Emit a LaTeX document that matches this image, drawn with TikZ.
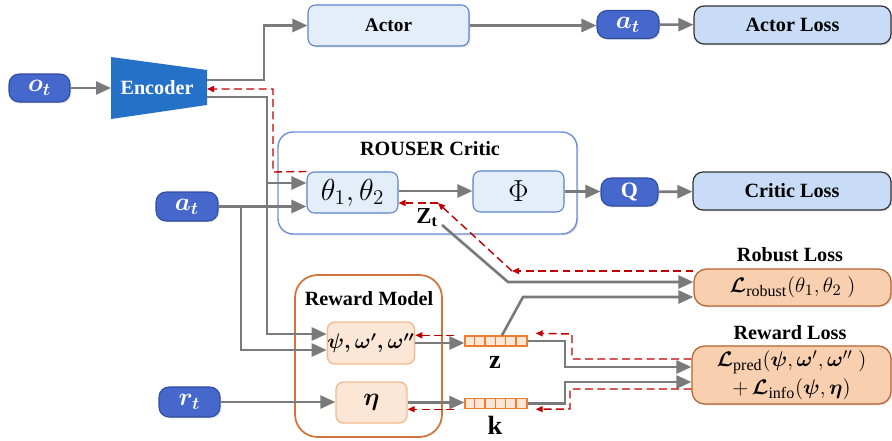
\documentclass[tikz,border=0pt]{standalone}
\usepackage{amsmath}
\usepackage{fontspec}
\setmainfont{Liberation Serif}
\usetikzlibrary{arrows.meta,shadows,calc}
\definecolor{pill}{HTML}{4668CC}
\definecolor{pillb}{HTML}{2F4C9E}
\definecolor{enc}{HTML}{2671C8}
\definecolor{lb}{HTML}{E4EEF9}
\definecolor{lbb}{HTML}{5C80C8}
\definecolor{lossb}{HTML}{C9DCF7}
\definecolor{peach}{HTML}{F8CFAF}
\definecolor{peachb}{HTML}{B5622D}
\definecolor{lpeach}{HTML}{FCE6D6}
\definecolor{lpeachb}{HTML}{F3BB90}
\definecolor{orng}{HTML}{ED7D31}
\definecolor{ln}{HTML}{7A7A7A}
\definecolor{rd}{HTML}{C00000}
\definecolor{critb}{HTML}{7090D8}
\definecolor{rmb}{HTML}{D2743A}
\tikzset{
  shd/.style={drop shadow={opacity=0.25,shadow xshift=0.8pt,shadow yshift=-0.8pt}},
  pillnode/.style={rounded corners=0.2cm, fill=pill, draw=pillb, line width=0.6pt, text=white, inner sep=0pt, font=\fontsize{14.5}{16}\selectfont, shd},
  bluebox/.style={rounded corners=0.15cm, fill=lb, draw=lbb, line width=0.6pt, inner sep=0pt, font=\bfseries\fontsize{11}{13}\selectfont},
  lossbox/.style={rounded corners=0.2cm, fill=lossb, draw=black!80, line width=0.7pt, inner sep=0pt, font=\bfseries\fontsize{11.5}{13}\selectfont, shd},
  peachbox/.style={rounded corners=0.25cm, fill=peach, draw=peachb, line width=0.7pt, inner sep=0pt, font=\fontsize{13}{15.5}\selectfont, shd},
  innerbox/.style={rounded corners=0.15cm, fill=lpeach, draw=lpeachb, line width=0.8pt, inner sep=0pt, font=\fontsize{12}{15}\selectfont},
  vecbox/.style={fill=lpeach, draw=orng, line width=0.8pt, inner sep=0pt, minimum width=1.24cm, minimum height=0.2cm},
  lbl/.style={font=\bfseries\fontsize{11.5}{13}\selectfont},
  garr/.style={draw=ln, line width=1.5pt, -{Triangle[length=0.3cm,width=0.26cm]}},
  rarr/.style={draw=rd, line width=0.8pt, dash pattern=on 4.5pt off 2.5pt, -{Triangle[length=0.14cm,width=0.12cm]}},
}
\begin{document}
\begin{tikzpicture}[x=0.02cm,y=-0.02cm]
\useasboundingbox (0,0) rectangle (892,440);
% containers
\node[draw=critb, fill=white, line width=0.8pt, rounded corners=0.3cm, minimum width=5.98cm, minimum height=2.04cm, shd] (critic) at (427.5,183) {};
\node[lbl] (critict) at (430,149) {ROUSER Critic};
\node[draw=rmb, fill=white, line width=1pt, rounded corners=0.45cm, minimum width=2.94cm, minimum height=3.24cm] (rm) at (368.5,356) {};
\node[lbl] (rmt) at (369,299) {Reward Model};
% encoder
\fill[enc] (111,57) -- (207,70) -- (207,105) -- (111,119) -- cycle;
\node[text=white, font=\bfseries\fontsize{11.5}{13}\selectfont] (enc) at (157,88) {Encoder};
\coordinate (ein) at (111,88);
\coordinate (eo1) at (207,80);
\coordinate (eback) at (207,89);
\coordinate (eo2) at (207,97);
% pills
\node[pillnode, minimum width=1.22cm, minimum height=0.56cm] (ot) at (39.5,88) {$\boldsymbol{o_t}$};
\node[pillnode, minimum width=1.24cm, minimum height=0.56cm] (at1) at (628,24.5) {$\boldsymbol{a_t}$};
\node[pillnode, minimum width=1.24cm, minimum height=0.58cm] (at2) at (187,206.5) {$\boldsymbol{a_t}$};
\node[pillnode, minimum width=1.14cm, minimum height=0.56cm, font=\bfseries\fontsize{12.5}{14}\selectfont] (q) at (629.5,192) {Q};
\node[pillnode, minimum width=1.22cm, minimum height=0.6cm] (rt) at (189.5,402) {$\boldsymbol{r_t}$};
% blue boxes
\node[bluebox, minimum width=3.22cm, minimum height=0.82cm, shd] (actor) at (388.5,25.5) {Actor};
\node[bluebox, minimum width=1.82cm, minimum height=0.82cm, font=\fontsize{17.5}{19}\selectfont] (theta) at (352.5,192.5) {$\theta_1,\theta_2$};
\node[bluebox, minimum width=1.82cm, minimum height=0.82cm, font=\fontsize{16}{19}\selectfont] (phi) at (518.5,191.5) {$\Phi$};
% loss boxes
\node[lossbox, minimum width=3.94cm, minimum height=0.76cm] (aloss) at (792.5,25) {Actor Loss};
\node[lossbox, minimum width=3.96cm, minimum height=0.76cm] (closs) at (792,191) {Critic Loss};
\node[peachbox, minimum width=3.94cm, minimum height=0.74cm] (robust) at (792.5,287.5) {$\boldsymbol{\mathcal{L}}_{\mathrm{robust}}(\theta_1,\theta_2\ )$};
\node[lbl] (robustt) at (790,255) {Robust Loss};
\node[peachbox, minimum width=3.98cm, minimum height=1.16cm, align=center] (rloss) at (791.5,375) {$\boldsymbol{\mathcal{L}}_{\mathrm{pred}}(\boldsymbol{\psi},\boldsymbol{\omega}',\boldsymbol{\omega}''\ )$\\$+\,\boldsymbol{\mathcal{L}}_{\mathrm{info}}(\boldsymbol{\psi},\boldsymbol{\eta})$};
\node[lbl] (rlosst) at (790,333) {Reward Loss};
% reward model inner
\node[innerbox, minimum width=1.6cm, minimum height=0.84cm] (psi) at (371,343) {$\boldsymbol{\psi,\omega',\omega''}$};
\node[innerbox, minimum width=1.42cm, minimum height=0.82cm, font=\fontsize{14}{16}\selectfont] (eta) at (371.5,402.5) {$\boldsymbol{\eta}$};
% vectors
\node[vecbox] (zvec) at (496,341) {};
\node[vecbox] (kvec) at (496,403.5) {};
\foreach \i in {1,...,5} {
  \draw[orng, line width=0.8pt] ($(zvec.west)+(\i*10.33,-5)$) -- ++(0,10);
  \draw[orng, line width=0.8pt] ($(kvec.west)+(\i*10.33,-5)$) -- ++(0,10);
}
\node[font=\bfseries\fontsize{15}{17}\selectfont] (zl) at (495,362) {z};
\node[font=\bfseries\fontsize{15}{17}\selectfont] (kl) at (495,425) {k};
\node[font=\fontsize{13}{15}\selectfont] (zt) at (427,218) {$\mathbf{Z}_{\mathbf{t}}$};
% gray arrows
\draw[garr] (ot) -- (ein);
\draw[garr] (eo1) -- (264,80) |- (actor.west);
\draw[garr] (actor.east) -- (actor.east -| at1.west);
\draw[garr] (at1) -- (aloss);
\draw[garr] (eo2) -- (267,97) |- ($(psi.west)+(0,-9)$);
\draw[garr] (267,183) -- ($(theta.west)+(0,-9.5)$);
\draw[garr] (at2.east) -- (at2.east -| theta.west);
\draw[garr] (241,206.5) |- ($(psi.west)+(0,7)$);
\draw[garr] ($(theta.east)+(0,-1.5)$) -- ($(phi.west)+(0,-0.5)$);
\draw[garr] (phi.east) -- (phi.east -| q.west);
\draw[garr] (q) -- (closs);
\draw[garr] ($(zt.center)+(15,7)$) -- (508,282) -- ($(robust.west)+(0,-5.5)$);
\draw[garr] ($(zvec.north)+(6,0)$) -- (523,297) -- ($(robust.west)+(0,9.5)$);
\draw[garr] (psi.east) -- (psi.east -| zvec.west);
\draw[garr] (eta.east) -- (eta.east -| kvec.west);
\draw[garr] (rt.east) -- (rt.east -| eta.west);
\draw[garr] (zvec.east) -- (565,341) |- ($(rloss.west)+(0,-8)$);
\draw[garr] (kvec.east) -- (565,403.5) |- ($(rloss.west)+(0,7)$);
% red dashed
\coordinate (zc) at (438,203);
\coordinate (rc) at (512,271);
\draw[rarr] (theta.north west) -- (273,172) -- (273,89) -- (eback);
\draw[rarr] ($(robust.west)+(0,-16.5)$) -- (rc);
\draw[rarr] (rc) -- (zc);
\draw[rarr] (zc) -- (zc -| theta.east);
\draw[rarr] ($(zvec.north west)+(-10,0)$) -- (zvec.north west -| psi.east);
\draw[rarr] ($(kvec.south west)+(-10,0)$) -- (kvec.south west -| eta.east);
\draw[rarr] ($(rloss.west)+(0,-16)$) -- (572,359) -- (572,334) -- ($(zvec.north east)+(8,-2)$);
\draw[rarr] ($(rloss.west)+(0,14)$) -- (570,389) -- (570,409) -- ($(kvec.south east)+(8,0)$);
\end{tikzpicture}
\end{document}
